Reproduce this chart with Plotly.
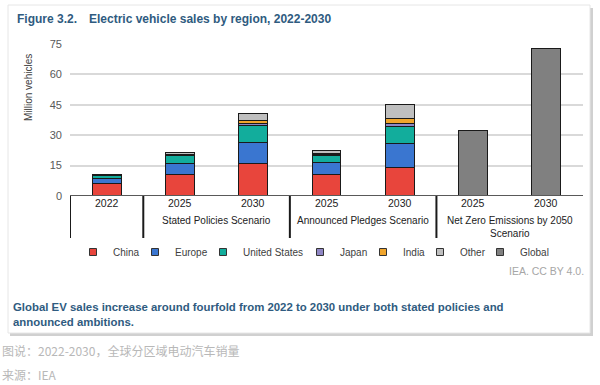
import plotly.graph_objects as go

# ---- data ----
categories = ["2022", "2025", "2030", "2025", "2030", "2025", "2030"]
groups = ["Stated Policies Scenario", "Announced Pledges Scenario",
          "Net Zero Emissions by 2050<br>Scenario"]
china = [6.2, 10.5, 16.2, 10.5, 14.2, None, None]
europe = [2.6, 5.7, 10.4, 5.8, 11.7, None, None]
united_states = [1.1, 3.6, 8.4, 3.7, 8.4, None, None]
japan = [0.1, 0.3, 0.7, 0.4, 1.3, None, None]
india = [0.1, 0.3, 1.6, 0.4, 2.5, None, None]
other = [0.6, 1.2, 3.6, 1.8, 6.9, None, None]
global_sales = [None, None, None, None, None, 32.5, 72.8]
y_ticks = [0, 15, 30, 45, 60, 75]

series = [
    ("China", china, "#e8453c"),
    ("Europe", europe, "#3a76d0"),
    ("United States", united_states, "#12ad9c"),
    ("Japan", japan, "#8f86c4"),
    ("India", india, "#f0a52c"),
    ("Other", other, "#bfbfbf"),
    ("Global", global_sales, "#808080"),
]
legend_square_px = [98, 160, 228, 325, 388, 445, 505]

FONT = "Liberation Sans, Arial, sans-serif"
W, H = 600, 385
PL, PR, PT, PB = 70, 583, 44, 196  # plot area in px


def px_x(px):
    return (px - PL) / (PR - PL)


def px_y(py):
    return (PB - py) / (PB - PT)


xs = list(range(len(categories)))
fig = go.Figure()
legend_layouts = {}
for i, (name, vals, col) in enumerate(series):
    lg = "legend" if i == 0 else f"legend{i + 1}"
    fig.add_trace(go.Bar(x=xs, y=vals, name=name, marker_color=col,
                         marker_line=dict(color="#1a1a1a", width=1),
                         width=0.395, showlegend=False))
    fig.add_trace(go.Scatter(x=[None], y=[None], mode="markers", name=name,
                             marker=dict(symbol="square", size=7, color=col,
                                         line=dict(color="#333333", width=1)),
                             showlegend=True, legend=lg))
    legend_layouts[lg] = dict(
        orientation="h", x=px_x(legend_square_px[i] - 25), y=px_y(252),
        xanchor="left", yanchor="middle", itemwidth=30,
        font=dict(family=FONT, size=10, color="#404040"),
        bgcolor="rgba(0,0,0,0)", borderwidth=0)

shapes = []
# card shadow + card
shapes.append(dict(type="rect", xref="paper", yref="paper", layer="below",
                   x0=px_x(10), x1=px_x(593), y0=px_y(336), y1=px_y(8),
                   fillcolor="#d0d0d0", line=dict(width=0)))
shapes.append(dict(type="rect", xref="paper", yref="paper", layer="below",
                   x0=px_x(8), x1=px_x(590), y0=px_y(333), y1=px_y(5),
                   fillcolor="white", line=dict(color="#e6e6e6", width=1)))
# category separators
for xv in [-0.5, 0.5, 2.5, 4.5]:
    shapes.append(dict(type="line", xref="x", yref="paper", x0=xv, x1=xv,
                       y0=0, y1=px_y(238), line=dict(color="#1a1a1a", width=2)))
# baseline
shapes.append(dict(type="line", xref="paper", yref="y", x0=0, x1=1, y0=0, y1=0,
                   line=dict(color="#595959", width=2)))

ann = []
ann.append(dict(text="<b>Figure 3.2.</b>", xref="paper", yref="paper",
                x=px_x(15), y=px_y(19), xanchor="left", yanchor="middle",
                showarrow=False, font=dict(family=FONT, size=12, color="#2f5b80")))
ann.append(dict(text="<b>Electric vehicle sales by region, 2022-2030</b>", xref="paper",
                yref="paper", x=px_x(87), y=px_y(19), xanchor="left", yanchor="middle",
                showarrow=False, font=dict(family=FONT, size=12, color="#2f5b80")))
ann.append(dict(text="Million vehicles", xref="paper", yref="paper", x=px_x(28),
                y=px_y(88), textangle=-90, xanchor="center", yanchor="middle",
                showarrow=False, font=dict(family=FONT, size=10, color="#404040")))
for xv, c in zip(xs, categories):
    ann.append(dict(text=c, xref="x", yref="paper", x=xv, y=px_y(203),
                    xanchor="center", yanchor="middle", showarrow=False,
                    font=dict(family=FONT, size=10.5, color="#222222")))
for gx, g in zip([1.5, 3.5, 5.5], groups):
    ann.append(dict(text=g, xref="x", yref="paper", x=gx, y=px_y(213),
                    xanchor="center", yanchor="top", showarrow=False,
                    font=dict(family=FONT, size=10, color="#222222")))
ann.append(dict(text="IEA. CC BY 4.0.", xref="paper", yref="paper", x=px_x(586),
                y=px_y(271), xanchor="right", yanchor="middle", showarrow=False,
                font=dict(family=FONT, size=10.5, color="#a6a6a6")))
ann.append(dict(text="<b>Global EV sales increase around fourfold from 2022 to 2030 under both stated policies and<br>announced ambitions.</b>",
                xref="paper", yref="paper", x=px_x(11), y=px_y(299), xanchor="left",
                yanchor="top", align="left", showarrow=False,
                font=dict(family=FONT, size=11.4, color="#2f5b80")))
ann.append(dict(text="图说：2022-2030，全球分区域电动汽车销量", xref="paper", yref="paper",
                x=px_x(0), y=px_y(351), xanchor="left", yanchor="middle", showarrow=False,
                font=dict(family="Noto Sans CJK SC", size=12, color="#b8b8b8")))
ann.append(dict(text="来源：IEA", xref="paper", yref="paper",
                x=px_x(0), y=px_y(374), xanchor="left", yanchor="middle", showarrow=False,
                font=dict(family="Noto Sans CJK SC", size=12, color="#b8b8b8")))

fig.update_layout(
    width=W, height=H,
    margin=dict(l=PL, r=W - PR, t=PT, b=H - PB),
    barmode="stack",
    paper_bgcolor="white", plot_bgcolor="rgba(0,0,0,0)",
    font=dict(family=FONT, size=11, color="#333333"),
    shapes=shapes, annotations=ann,
    xaxis=dict(range=[-0.5, 6.5], tickvals=xs, showticklabels=False, showgrid=False,
               zeroline=False, showline=False, ticks="", fixedrange=True),
    yaxis=dict(range=[0, 75], tickvals=y_ticks, showgrid=True, gridcolor="#d9d9d9",
               gridwidth=1.5, zeroline=False, showline=False, ticks="",
               ticklabelstandoff=7,
               tickfont=dict(family=FONT, size=11, color="#595959"), fixedrange=True),
    **legend_layouts,
)

fig.write_html("out.html", config={"displayModeBar": False},
               post_script="document.body.style.margin='0';")
